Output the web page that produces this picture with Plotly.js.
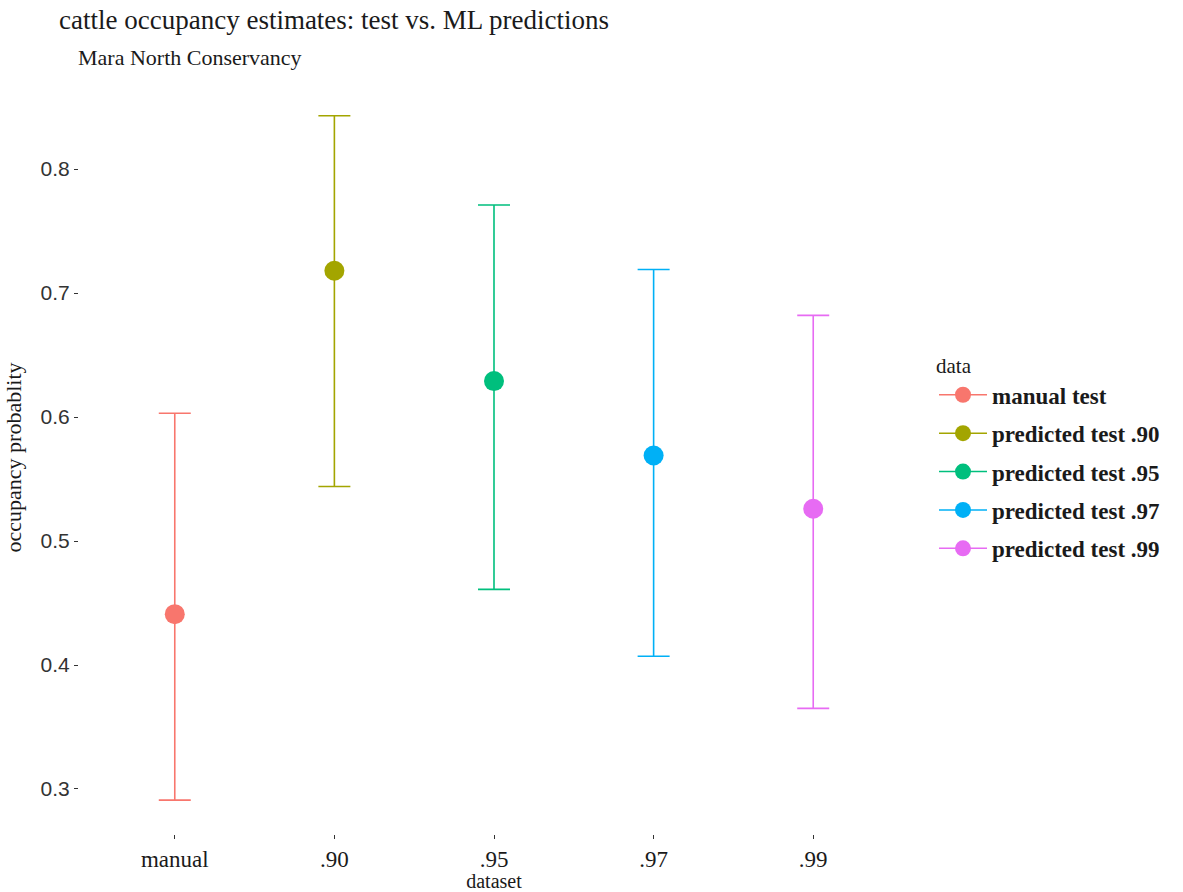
<!DOCTYPE html>
<html>
<head>
<meta charset="utf-8">
<script src="https://cdn.plot.ly/plotly-3.0.1.min.js"></script>
<style>
  html, body { margin: 0; padding: 0; background: #ffffff; }
  #chart { width: 1183px; height: 892px; }
</style>
</head>
<body>
<div id="chart"></div>
<script>
// Occupancy estimates with 95% intervals, one trace per dataset
const datasets = ['manual', '.90', '.95', '.97', '.99'];
const seriesNames = ['manual test', 'predicted test .90', 'predicted test .95', 'predicted test .97', 'predicted test .99'];
const estimate = [0.441, 0.718, 0.629, 0.569, 0.526];
const lower = [0.291, 0.544, 0.461, 0.407, 0.365];
const upper = [0.603, 0.843, 0.771, 0.719, 0.682];
const colors = ['#F8766D', '#A3A500', '#00BF7D', '#00B0F6', '#E76BF3'];

const serif = 'Liberation Serif, Times New Roman, serif';

const traces = datasets.map((d, i) => ({
  type: 'scatter',
  mode: 'lines+markers',
  name: seriesNames[i],
  legendgroup: 'g' + i,
  x: [d],
  y: [estimate[i]],
  marker: { color: colors[i], size: 20 },
  line: { color: colors[i], width: 1.5 },
  error_y: {
    type: 'data',
    symmetric: false,
    array: [upper[i] - estimate[i]],
    arrayminus: [estimate[i] - lower[i]],
    color: colors[i],
    thickness: 1.6,
    width: 16
  },
  hoverinfo: 'x+y'
}));

const layout = {
  width: 1183,
  height: 892,
  margin: { l: 79, r: 274, t: 81, b: 58 },
  paper_bgcolor: '#ffffff',
  plot_bgcolor: '#ffffff',
  showlegend: true,
  title: {
    text: 'cattle occupancy estimates: test vs. ML predictions',
    font: { family: serif, size: 27, color: '#1a1a1a' },
    xref: 'container', x: 59 / 1183, xanchor: 'left',
    yref: 'container', y: 1 - 20 / 892, yanchor: 'middle'
  },
  annotations: [{
    text: 'Mara North Conservancy',
    xref: 'paper', yref: 'paper',
    x: -0.004, y: (834 - 57) / 753,
    xanchor: 'left', yanchor: 'middle',
    showarrow: false,
    font: { family: serif, size: 22, color: '#1a1a1a' }
  }],
  xaxis: {
    type: 'category',
    categoryorder: 'array',
    categoryarray: datasets,
    range: [-0.6, 4.6],
    showgrid: false, zeroline: false, showline: false,
    ticks: 'outside', ticklen: 4, tickwidth: 1, tickcolor: '#333333',
    tickfont: { family: serif, size: 23, color: '#1a1a1a' },
    title: { text: 'dataset', font: { family: serif, size: 20, color: '#1a1a1a' }, standoff: 0 }
  },
  yaxis: {
    range: [0.2637, 0.871],
    tick0: 0.3, dtick: 0.1, tickformat: '.1f',
    showgrid: false, zeroline: false, showline: false,
    ticks: 'outside', ticklen: 4, tickwidth: 1, tickcolor: '#333333',
    tickfont: { family: 'Liberation Sans, Arial, sans-serif', size: 21, color: '#333333' },
    title: { text: 'occupancy probablity', font: { family: serif, size: 22, color: '#1a1a1a' }, standoff: 12 }
  },
  legend: {
    x: (934 - 79) / 830, xanchor: 'left',
    y: (834 - 346) / 753, yanchor: 'top',
    bgcolor: 'rgba(0,0,0,0)',
    borderwidth: 0,
    tracegroupgap: 5.5,
    itemwidth: 48,
    title: { text: 'data', font: { family: serif, size: 21, color: '#1a1a1a', weight: 'normal' } },
    font: { family: serif, size: 23, color: '#1a1a1a', weight: 'bold' }
  }
};

Plotly.newPlot('chart', traces, layout, { displayModeBar: false, staticPlot: true });
</script>
</body>
</html>
